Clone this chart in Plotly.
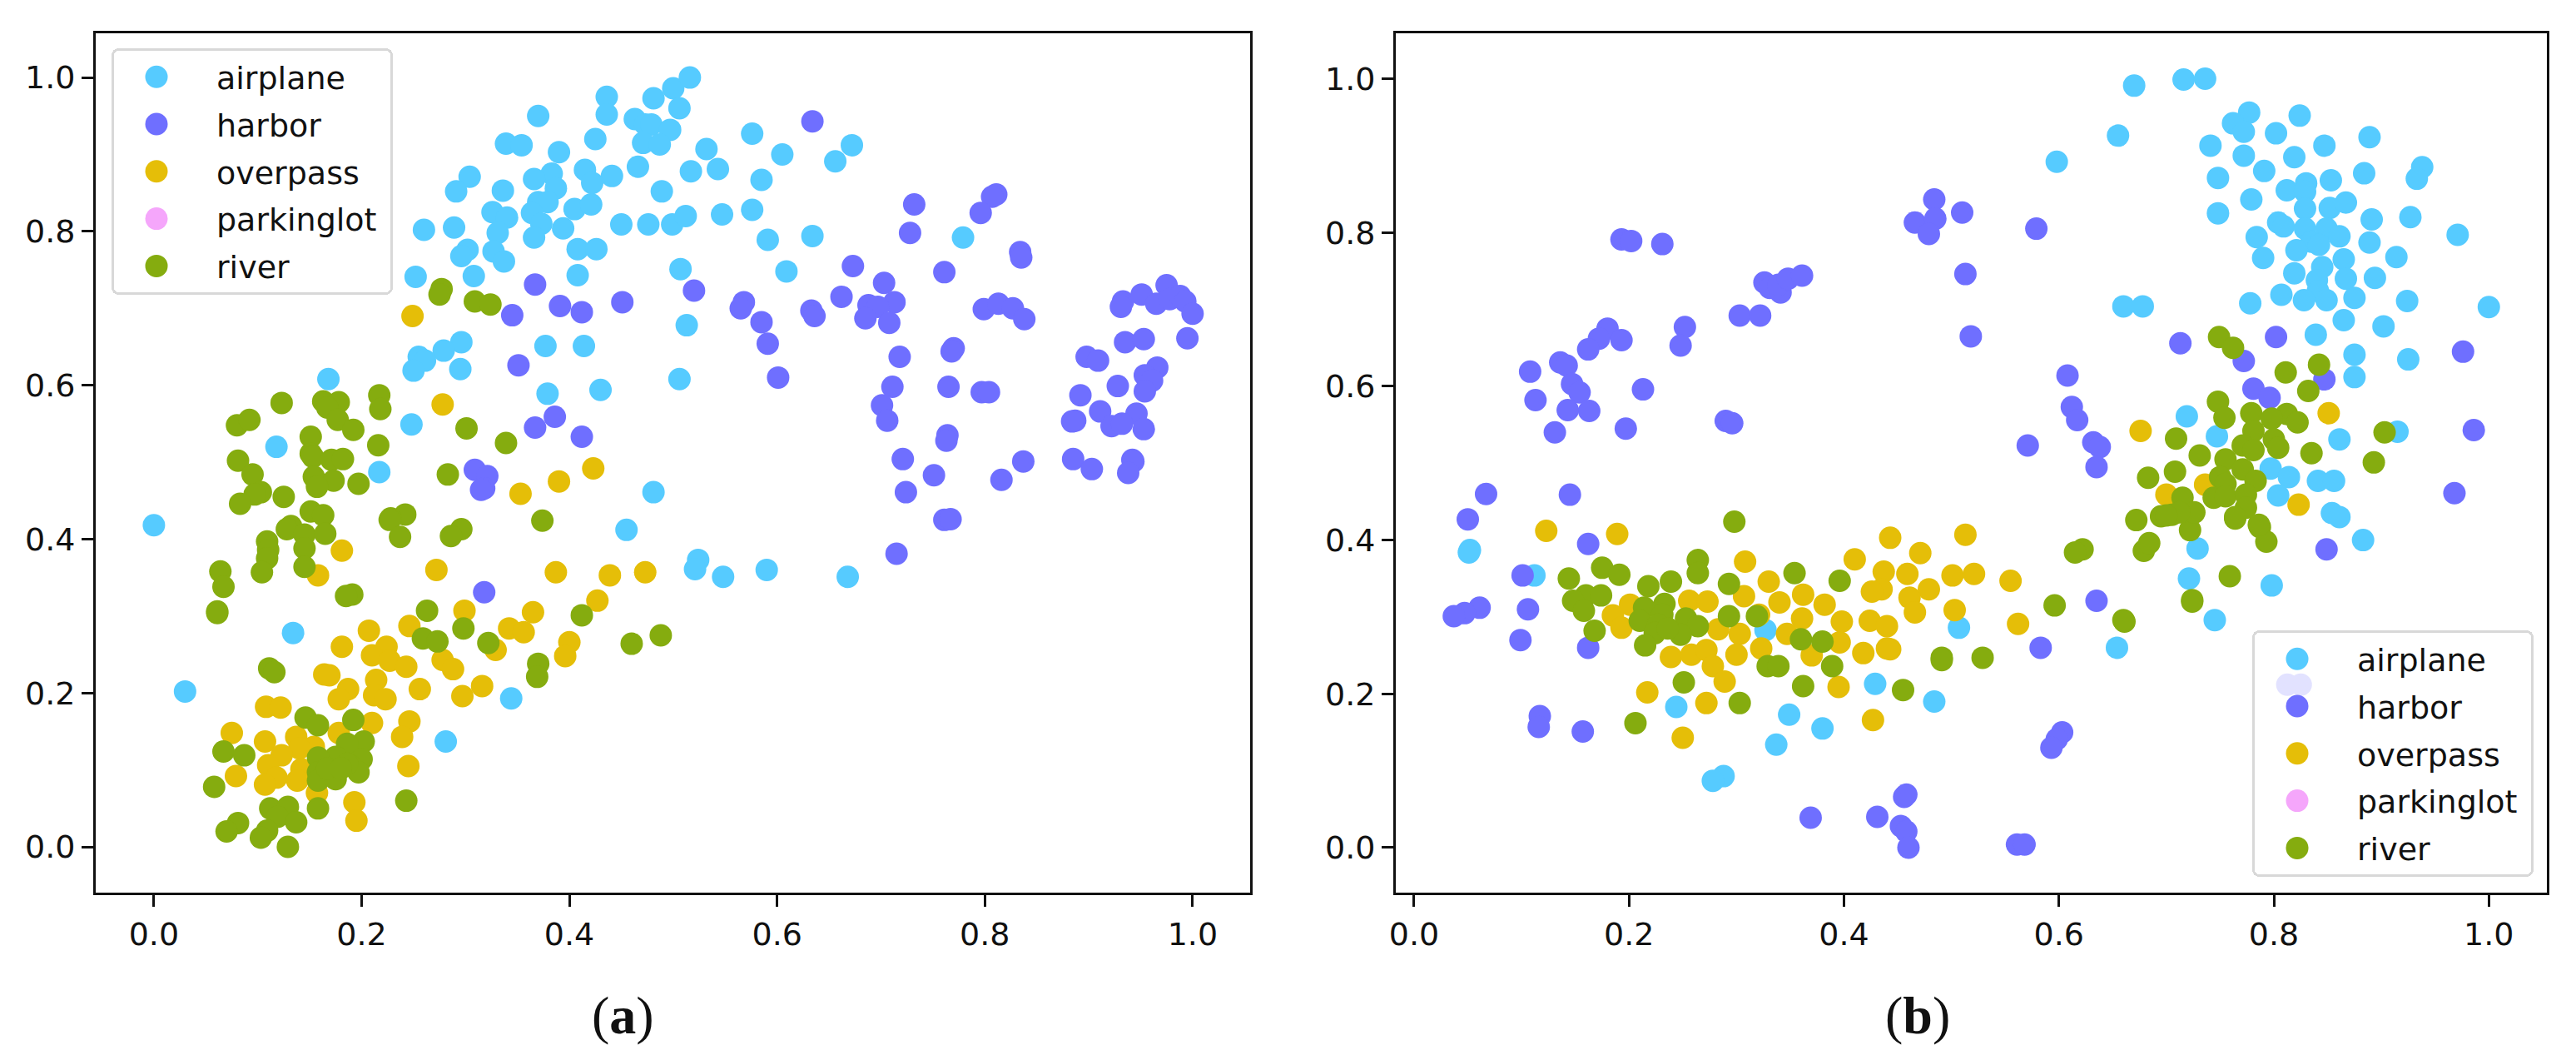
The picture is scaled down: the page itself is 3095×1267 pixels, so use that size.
import plotly.graph_objects as go

W, H = 3095, 1267
NAMES = ["airplane", "harbor", "overpass", "parkinglot", "river"]
COLORS = ["#56CBFF", "#6F6FFF", "#E5BE08", "#F5A6FB", "#85AC0F"]
TICKS = [0.0, 0.2, 0.4, 0.6, 0.8, 1.0]
PANEL_LABELS = ["a", "b"]

AIRPLANE_A = [(.370,.950),(.339,.914),(.354,.912),(.390,.903),(.425,.920),(.436,.975),(.436,.952),(.481,.973),(.500,.986),(.506,.960),
(.516,1.0),(.463,.946),(.473,.939),(.479,.939),(.497,.932),(.471,.915),(.487,.913),(.466,.884),(.415,.880),(.441,.872),(.422,.863),(.383,.875),
(.366,.868),(.387,.856),(.336,.853),(.304,.871),(.291,.852),(.489,.852),(.370,.838),(.379,.838),(.405,.829),(.421,.835),(.364,.824),
(.326,.825),(.340,.818),(.373,.810),(.394,.804),(.450,.809),(.476,.809),(.499,.809),(.260,.802),(.289,.805),(.366,.792),(.331,.798),
(.302,.776),(.296,.768),(.327,.774),(.337,.761),(.408,.777),(.426,.777),(.308,.742),(.252,.741),(.408,.743),(.296,.656),(.279,.645),
(.255,.637),(.261,.632),(.250,.619),(.295,.621),(.377,.651),(.414,.651),(.379,.589),(.430,.594),(.168,.608),(.248,.549),(.118,.520),
(.576,.927),(.532,.907),(.605,.900),(.672,.912),(.656,.891),(.517,.878),(.543,.881),(.585,.867),(.512,.820),(.547,.822),(.576,.828),
(.591,.789),(.634,.794),(.779,.792),(.507,.751),(.609,.748),(.513,.678),(.506,.608),(.217,.487),(.000,.418),(.481,.461),(.455,.412),
(.134,.278),(.030,.202),(.344,.193),(.281,.137),(.524,.373),(.521,.361),(.548,.351),(.590,.360),(.668,.351)]

HARBOR_A = [(.367,.731),(.345,.691),(.391,.703),(.412,.695),(.451,.708),(.351,.626),(.386,.559),(.367,.545),(.412,.533),(.309,.490),
(.321,.482),(.318,.466),(.315,.464),(.318,.331),(.634,.943),(.732,.835),(.728,.798),(.811,.848),(.807,.845),(.796,.824),(.834,.773),
(.835,.766),(.673,.755),(.761,.747),(.703,.733),(.520,.723),(.662,.715),(.713,.708),(.688,.704),(.697,.702),(.685,.687),(.708,.681),
(.568,.708),(.565,.700),(.585,.682),(.591,.654),(.633,.697),(.636,.690),(.601,.610),(.799,.699),(.813,.706),(.827,.700),(.838,.686),
(.770,.648),(.768,.644),(.718,.637),(.711,.598),(.765,.598),(.797,.591),(.804,.591),(.701,.574),(.706,.554),(.764,.535),(.763,.528),
(.721,.504),(.751,.483),(.724,.461),(.837,.501),(.816,.477),(.761,.425),(.767,.426),(.933,.709),(.931,.702),(.951,.718),(.975,.730),
(.965,.706),(.978,.712),(.988,.716),(.993,.709),(1.0,.693),(.995,.661),(.935,.656),(.953,.660),(.898,.637),(.909,.632),(.966,.623),
(.954,.613),(.961,.606),(.928,.599),(.954,.592),(.892,.587),(.911,.566),(.946,.563),(.887,.554),(.884,.553),(.922,.547),(.932,.550),
(.953,.543),(.885,.504),(.903,.491),(.942,.503),(.943,.501),(.938,.486),(.715,.381)]

OVERPASS_A = [(.249,.690),(.278,.575),(.423,.492),(.390,.475),(.353,.459),(.181,.385),(.158,.353),(.272,.360),(.387,.357),(.439,.353),
(.473,.357),(.427,.320),(.299,.307),(.365,.305),(.246,.287),(.342,.284),(.356,.279),(.400,.266),(.396,.248),(.329,.256),(.207,.281),
(.181,.260),(.224,.260),(.210,.249),(.227,.242),(.243,.234),(.278,.243),(.288,.231),(.164,.224),(.169,.223),(.214,.217),(.187,.205),
(.178,.192),(.212,.197),(.223,.192),(.256,.205),(.316,.209),(.297,.196),(.108,.182),(.122,.181),(.210,.161),(.246,.163),(.239,.143),
(.178,.148),(.075,.148),(.137,.143),(.107,.137),(.154,.130),(.140,.128),(.123,.119),(.110,.106),(.142,.101),(.079,.092),(.118,.090),
(.107,.081),(.138,.086),(.157,.070),(.245,.105),(.193,.058),(.195,.034)]

PARKINGLOT_A = [(None, None)]

RIVER_A = [(.277,.725),(.275,.718),(.309,.709),(.324,.705),(.123,.577),(.080,.548),(.092,.555),(.163,.579),(.178,.578),(.167,.571),
(.217,.587),(.218,.569),(.177,.555),(.192,.542),(.301,.544),(.339,.525),(.151,.533),(.216,.522),(.081,.502),(.151,.511),(.153,.507),
(.171,.503),(.182,.504),(.095,.484),(.154,.481),(.173,.476),(.157,.468),(.197,.472),(.283,.484),(.103,.461),(.097,.458),(.125,.455),
(.083,.446),(.151,.436),(.163,.431),(.242,.432),(.228,.427),(.227,.425),(.132,.417),(.128,.413),(.145,.406),(.165,.407),(.237,.403),
(.296,.413),(.286,.404),(.374,.424),(.109,.397),(.110,.386),(.145,.388),(.109,.375),(.104,.357),(.145,.364),(.064,.358),(.067,.338),
(.061,.306),(.061,.304),(.191,.328),(.185,.326),(.263,.307),(.298,.284),(.259,.271),(.273,.267),(.322,.265),(.412,.301),(.370,.238),
(.369,.221),(.460,.264),(.488,.275),(.111,.232),(.116,.227),(.146,.168),(.158,.158),(.192,.165),(.067,.124),(.087,.119),(.202,.137),
(.186,.134),(.200,.114),(.175,.117),(.158,.116),(.158,.097),(.158,.086),(.175,.088),(.189,.106),(.197,.097),(.186,.108),(.167,.102),
(.180,.102),(.058,.078),(.243,.060),(.112,.050),(.129,.052),(.119,.039),(.137,.032),(.158,.050),(.081,.031),(.070,.020),(.109,.021),
(.103,.012),(.129,.000)]

AIRPLANE_B = [(.670,.991),(.716,.999),(.736,1.0),(.777,.956),(.762,.942),(.772,.931),(.824,.952),(.802,.929),(.655,.926),(.741,.913),
(.772,.900),(.819,.898),(.847,.913),(.889,.924),(.598,.892),(.791,.880),(.748,.871),(.884,.877),(.938,.885),(.933,.870),(.830,.864),
(.853,.868),(.812,.855),(.829,.853),(.779,.843),(.829,.831),(.852,.832),(.867,.839),(.748,.825),(.804,.813),(.809,.808),(.891,.817),
(.927,.820),(.971,.797),(.829,.805),(.849,.805),(.861,.795),(.784,.794),(.889,.787),(.835,.788),(.842,.784),(.821,.777),(.790,.767),
(.914,.768),(.865,.765),(.845,.755),(.819,.747),(.867,.740),(.840,.738),(.894,.741),(.807,.719),(.841,.724),(.828,.712),(.849,.712),
(.875,.715),(.924,.711),(.778,.708),(.660,.704),(.678,.704),(1.0,.703),(.865,.686),(.902,.678),(.839,.667),(.875,.641),(.925,.635),
(.875,.612),(.719,.561),(.747,.535),(.861,.531),(.915,.541),(.797,.493),(.814,.482),(.841,.477),(.856,.477),(.804,.458),(.854,.435),
(.861,.430),(.883,.400),(.729,.389),(.721,.350),(.798,.341),(.745,.296),(.654,.260),(.507,.286),(.052,.387),(.051,.384),(.112,.354),
(.327,.283),(.429,.213),(.484,.190),(.244,.183),(.349,.173),(.380,.155),(.337,.134),(.288,.093),(.278,.087)]

HARBOR_B = [(.193,.791),(.202,.789),(.231,.785),(.484,.843),(.466,.813),(.485,.818),(.479,.798),(.510,.826),(.513,.746),(.326,.735),
(.331,.728),(.341,.722),(.339,.732),(.348,.740),(.361,.744),(.518,.665),(.252,.677),(.248,.653),(.180,.675),(.172,.662),(.193,.660),
(.162,.648),(.136,.631),(.142,.627),(.108,.619),(.147,.603),(.154,.592),(.213,.596),(.113,.582),(.143,.569),(.163,.568),(.131,.540),
(.197,.545),(.290,.555),(.296,.552),(.303,.692),(.322,.692),(.067,.460),(.145,.459),(.050,.427),(.162,.395),(.101,.354),(.061,.312),
(.047,.305),(.037,.301),(.106,.310),(.099,.270),(.162,.260),(.117,.171),(.116,.157),(.157,.151),(.369,.039),(.431,.040),(.456,.066),
(.458,.069),(.453,.028),(.458,.021),(.460,.000),(.579,.805),(.713,.656),(.802,.664),(.772,.633),(.976,.645),(.608,.614),(.847,.609),
(.612,.573),(.617,.556),(.781,.597),(.796,.585),(.571,.523),(.986,.543),(.632,.527),(.638,.521),(.635,.495),(.968,.461),(.635,.321),
(.583,.260),(.849,.388),(.603,.150),(.598,.141),(.593,.130),(.561,.004),(.568,.004),(.8125,.212),(.825,.212)]

OVERPASS_B = [(.123,.412),(.189,.408),(.443,.403),(.513,.407),(.308,.372),(.410,.375),(.471,.383),(.437,.359),(.459,.356),(.501,.354),
(.521,.356),(.330,.346),(.435,.336),(.426,.333),(.479,.336),(.362,.329),(.307,.327),(.461,.325),(.340,.319),(.201,.316),(.256,.321),
(.273,.320),(.382,.316),(.466,.306),(.503,.309),(.185,.302),(.321,.303),(.361,.298),(.398,.294),(.424,.295),(.440,.288),(.193,.286),
(.283,.284),(.303,.278),(.347,.278),(.396,.267),(.323,.259),(.418,.253),(.440,.259),(.443,.258),(.239,.248),(.258,.251),(.272,.257),
(.300,.251),(.370,.250),(.278,.236),(.289,.216),(.395,.209),(.217,.202),(.272,.188),(.427,.166),(.250,.143),(.676,.542),(.851,.565),
(.736,.472),(.700,.459),(.823,.446),(.555,.347),(.562,.291)]

PARKINGLOT_B = [(None, None)]

RIVER_B = [(.298,.424),(.264,.374),(.264,.357),(.175,.364),(.191,.355),(.144,.350),(.218,.340),(.239,.346),(.293,.343),(.354,.357),
(.396,.347),(.160,.328),(.174,.328),(.148,.321),(.158,.308),(.168,.282),(.233,.317),(.214,.312),(.210,.295),(.231,.303),(.227,.290),
(.253,.298),(.264,.288),(.293,.301),(.319,.301),(.248,.277),(.224,.279),(.236,.285),(.215,.263),(.360,.271),(.380,.268),(.389,.236),
(.329,.236),(.339,.236),(.251,.215),(.362,.210),(.303,.188),(.455,.205),(.206,.162),(.491,.247),(.491,.244),(.529,.247),(.596,.315),
(.622,.388),(.615,.384),(.661,.294),(.660,.296),(.724,.320),(.724,.322),(.759,.353),(.672,.426),(.679,.386),(.684,.396),(.695,.431),
(.705,.433),(.722,.413),(.764,.428),(.787,.417),(.793,.398),(.749,.664),(.762,.650),(.811,.618),(.842,.628),(.832,.594),(.748,.580),
(.754,.559),(.779,.565),(.812,.564),(.822,.553),(.798,.558),(.903,.540),(.709,.532),(.781,.542),(.800,.531),(.804,.520),(.771,.523),
(.781,.517),(.835,.513),(.731,.510),(.755,.505),(.893,.501),(.708,.489),(.683,.481),(.750,.482),(.771,.492),(.783,.477),(.755,.473),
(.744,.455),(.755,.457),(.774,.459),(.774,.442),(.715,.455),(.726,.436),(.712,.436),(.700,.432),(.764,.430),(.786,.420)]

PANEL_A = [AIRPLANE_A, HARBOR_A, OVERPASS_A, PARKINGLOT_A, RIVER_A]
PANEL_B = [AIRPLANE_B, HARBOR_B, OVERPASS_B, PARKINGLOT_B, RIVER_B]

fig = go.Figure()
for p, (panel, xa, ya, leg) in enumerate([(PANEL_A, "x", "y", "legend"), (PANEL_B, "x2", "y2", "legend2")]):
    for name, color, pts in zip(NAMES, COLORS, panel):
        fig.add_trace(go.Scatter(
            x=[q[0] for q in pts], y=[q[1] for q in pts], mode="markers", name=name,
            xaxis=xa, yaxis=ya, legend=leg, legendgroup=f"{name}{p}", showlegend=True,
            marker=dict(size=27, color=color, line=dict(width=0)), hoverinfo="skip"))

axis = dict(showline=True, mirror=True, linecolor="#111", linewidth=3, ticks="outside", ticklen=14,
            tickwidth=2.5, tickcolor="#111", tickvals=TICKS, tickformat=".1f", showgrid=False, zeroline=False,
            tickfont=dict(family="DejaVu Sans", size=38, color="#111"))

def legend_box(x, y):
    return dict(x=x / W, y=1 - y / H, xanchor="left", yanchor="top", bgcolor="rgba(255,255,255,0.8)",
                bordercolor="#d8d8d8", borderwidth=3, font=dict(family="DejaVu Sans", size=38, color="#111"),
                itemwidth=92, tracegroupgap=4.4, itemsizing="trace",
                traceorder="grouped", itemclick=False, itemdoubleclick=False)

fig.update_layout(
    width=W, height=H, margin=dict(l=0, r=0, t=0, b=0, autoexpand=False),
    paper_bgcolor="white", plot_bgcolor="white",
    xaxis=dict(axis, domain=[115 / W, 1501.5 / W], range=[-0.056, 1.055], anchor="y"),
    yaxis=dict(axis, domain=[1 - 1072 / H, 1 - 39.5 / H], range=[-0.0595, 1.058], anchor="x"),
    xaxis2=dict(axis, domain=[1677 / W, 3060 / W], range=[-0.017, 1.054], anchor="y2"),
    yaxis2=dict(axis, domain=[1 - 1072 / H, 1 - 39.5 / H], range=[-0.0585, 1.0596], anchor="x2"),
    legend=legend_box(134, 58),
    legend2=legend_box(2706, 757),
    annotations=[dict(text=f"(<b>{t}</b>)", x=cx / W, y=1 - 1219 / H, xref="paper", yref="paper",
                      xanchor="center", yanchor="middle", showarrow=False,
                      font=dict(family="Liberation Serif", size=64, color="#111"))
                 for t, cx in zip(PANEL_LABELS, [748, 2304])],
)

POST = """
document.body.style.margin = '0';
function tune() {
  document.querySelectorAll('.infolayer > g[class^="legend"]').forEach(function (g) {
    g.querySelectorAll('path.scatterpts').forEach(function (p) {
      var t = p.getAttribute('transform') || '';
      if (t.indexOf('scale') < 0) p.setAttribute('transform', t + ' scale(1.6875)');
    });
    g.querySelectorAll('rect.bg').forEach(function (r) {
      r.setAttribute('rx', 7); r.setAttribute('ry', 7); r.setAttribute('width', 335);
    });
    g.querySelectorAll('.scrollbox').forEach(function (s) { s.removeAttribute('clip-path'); });
    g.querySelectorAll('g.traces text').forEach(function (t) {
      t.setAttribute('transform', 'translate(21,0)');
    });
  });
}
tune();
setTimeout(tune, 50);
setTimeout(tune, 300);
"""
fig.write_html("out.html", post_script=POST, config=dict(displayModeBar=False, responsive=False))
